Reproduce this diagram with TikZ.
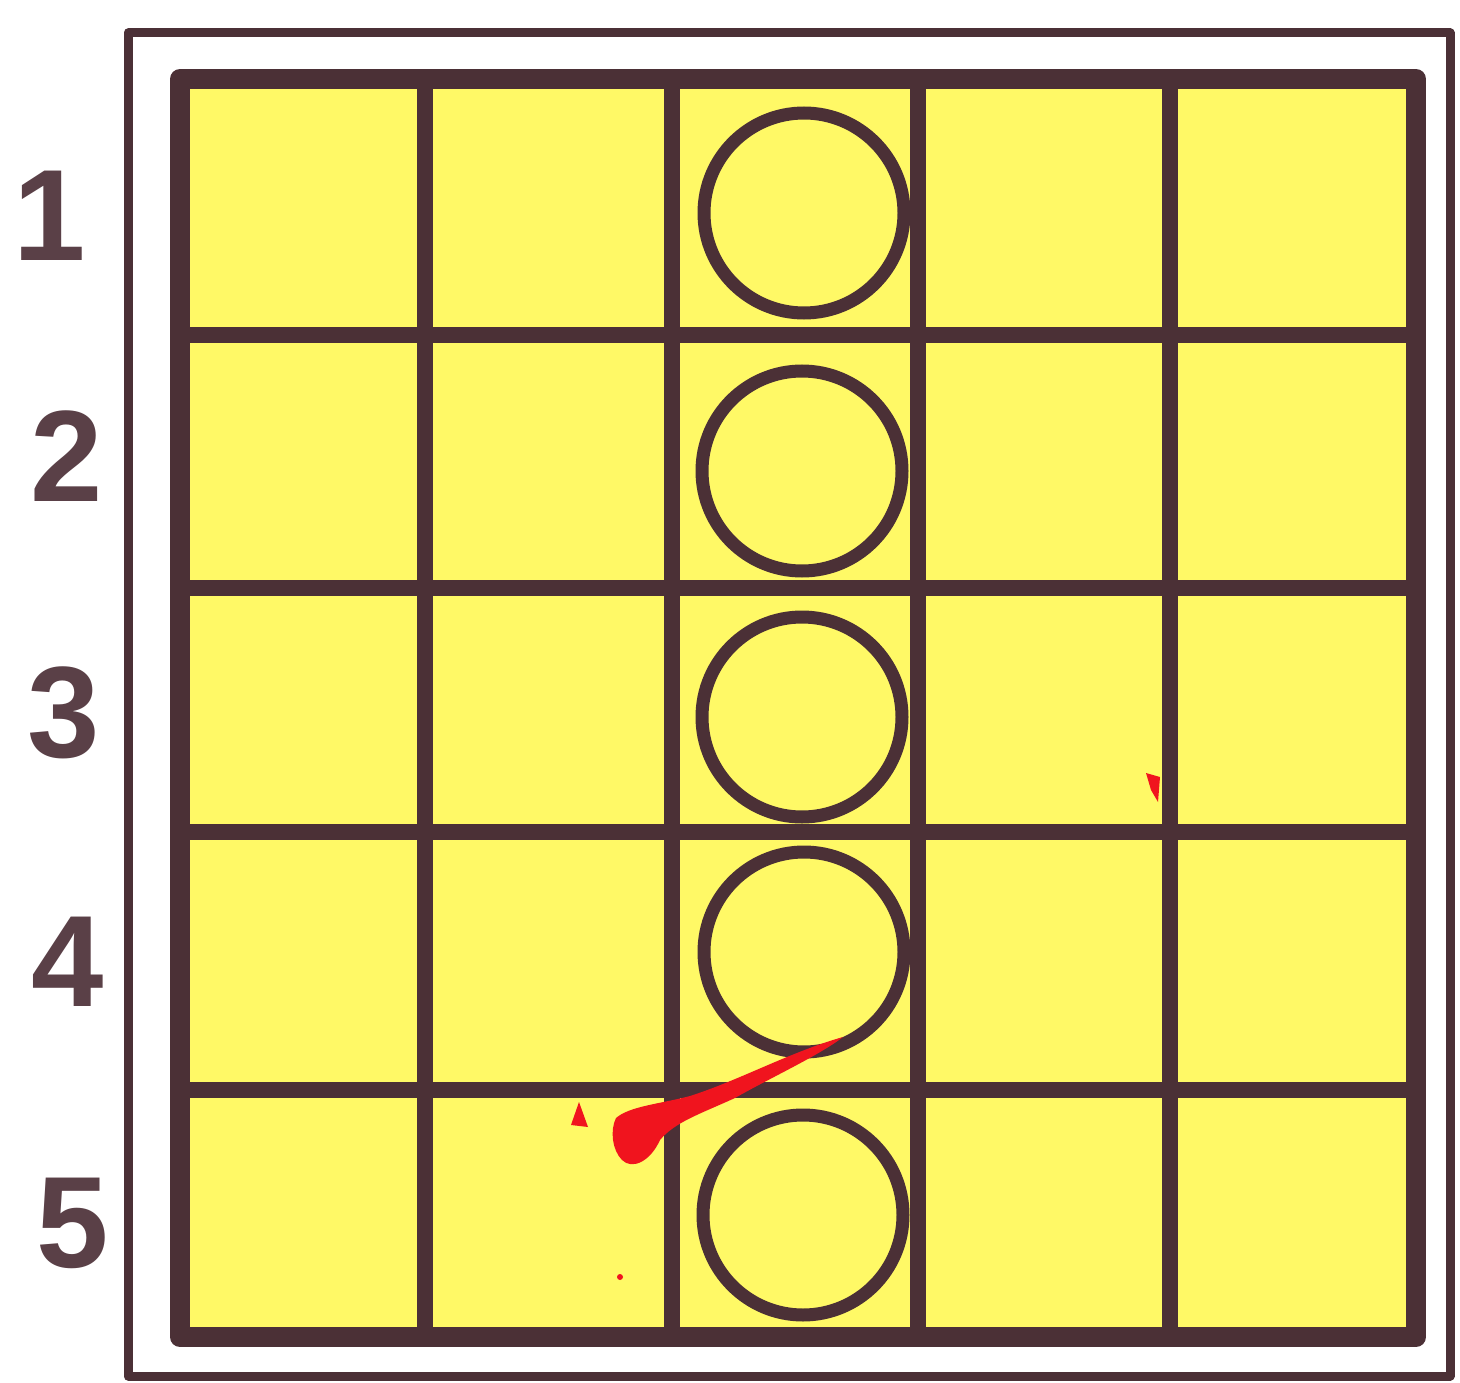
\documentclass[tikz,border=0pt]{standalone}
\usepackage{fontspec}
\setmainfont{Liberation Sans}
\definecolor{ink}{HTML}{4B3036}
\definecolor{labelink}{HTML}{5A4047}
\definecolor{board}{HTML}{FFF966}
\definecolor{smudge}{HTML}{F0141E}
\begin{document}
\begin{tikzpicture}[x=1pt,y=-1pt,
  piece/.style={circle,draw=ink,line width=13pt,minimum size=200pt,inner sep=0pt},
  rowlabel/.style={text=labelink,font=\fontsize{130}{130}\selectfont\bfseries,inner sep=0pt},
  gridline/.style={draw=ink,line width=16pt,line cap=round},
  border/.style={draw=ink,line width=20pt,line join=round}]
\useasboundingbox (0,0) rectangle (1460,1383);
% outer frame
\draw[ink,line width=9pt,line join=round] (128,33) rectangle (1450,1376);
% board
\fill[board] (180,79) rectangle (1416,1337);
\foreach \x in {425,672,918,1170} \draw[gridline] (\x,79) -- (\x,1337);
\foreach \y in {335,588,832,1090} \draw[gridline] (180,\y) -- (1416,\y);
\draw[border] (180,79) rectangle (1416,1337);
% pieces
\node[piece] (p1) at (804,213) {};
\node[piece] (p2) at (802,471) {};
\node[piece] (p3) at (802,717) {};
\node[piece] (p4) at (804,952) {};
\node[piece] (p5) at (803,1215) {};
% row labels
\node[rowlabel] (l1) at (50,216) {1};
\node[rowlabel] (l2) at (67,456) {2};
\node[rowlabel] (l3) at (64,713) {3};
\node[rowlabel] (l4) at (68,962) {4};
\node[rowlabel] (l5) at (73,1223) {5};
% red smudges
\fill[smudge] (616,1118) .. controls (630,1106) and (660,1104) .. (690,1096)
  .. controls (740,1080) and (790,1052) .. (843,1037)
  .. controls (820,1055) and (770,1078) .. (735,1098)
  .. controls (700,1114) and (675,1122) .. (660,1140)
  .. controls (650,1162) and (632,1170) .. (622,1160)
  .. controls (612,1150) and (610,1130) .. (616,1118) -- cycle;
\fill[smudge] (571,1125) -- (579,1102) -- (588,1127) -- cycle;
\fill[smudge] (1146,773) -- (1160,777) -- (1158,802) -- (1151,790) -- cycle;
\fill[smudge] (620,1277) circle (3);
\end{tikzpicture}
\end{document}
